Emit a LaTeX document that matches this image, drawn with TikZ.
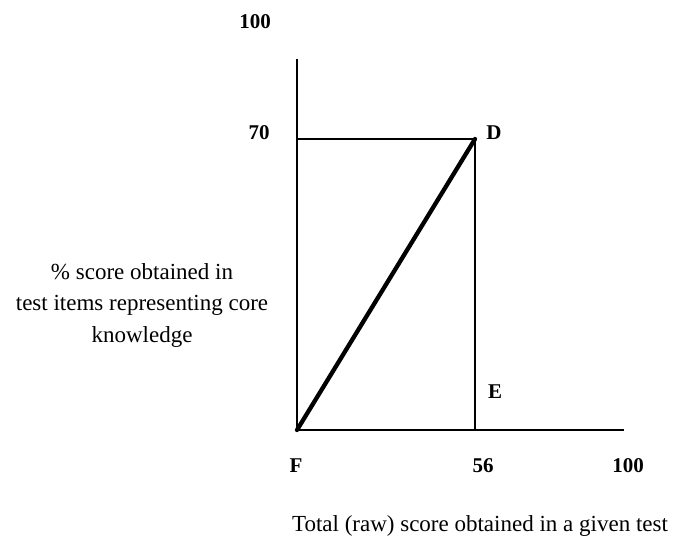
\documentclass[tikz,border=0pt]{standalone}
\usepackage{fontspec}
\setmainfont{Liberation Serif}
\usetikzlibrary{positioning}

\begin{document}
\begin{tikzpicture}[
        x=1pt, y=-1pt,
        axis/.style={draw, line width=1.3pt},
        tick/.style={font=\fontsize{21}{24}\selectfont\bfseries},
        caption/.style={font=\fontsize{23}{31.5}\selectfont, align=center, inner sep=0pt}
    ]
    \useasboundingbox (0,0) rectangle (676,544);

    % ---- Corner points ----
    \coordinate (F)   at (297, 430);
    \coordinate (Top) at (297,  59);
    \coordinate (Xend) at (624, 430);
    \coordinate (Y70) at (297, 139);
    \coordinate (D)   at (475, 139);
    \coordinate (X56) at (475, 430);

    % ---- Axes and guide lines ----
    \draw[axis] (Top) -- (F) -- (Xend);
    \draw[axis] (Y70) -- (D) -- (X56);
    \draw[line width=4.3pt, line cap=round] (F) -- (D);

    % ---- Labels ----
    \node[tick] (l100y) at (255,  22) {100};
    \node[tick] (l70)   at (259, 133) {70};
    \node[tick] (lD)    at (494, 133) {D};
    \node[tick] (lE)    at (495, 392) {E};
    \node[tick] (lF)    at (296, 466) {F};
    \node[tick] (l56)   at (483, 466) {56};
    \node[tick] (l100x) at (628, 466) {100};

    \node[caption] (ylab) at (142, 305) {\% score obtained in\\test items representing core\\knowledge};
    \node[caption] (xlab) at (480, 526) {Total (raw) score obtained in a given test};

    \end{tikzpicture}
\end{document}
